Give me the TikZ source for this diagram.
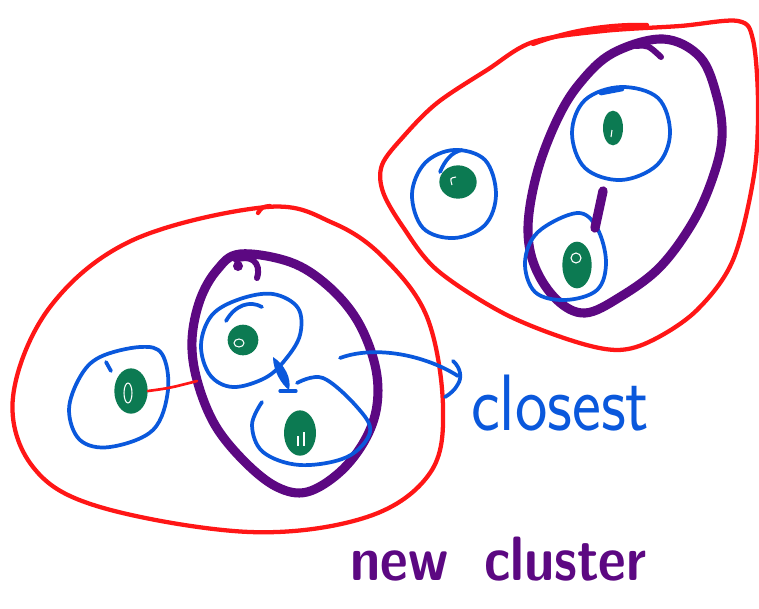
\documentclass[tikz,border=0pt]{standalone}
\usetikzlibrary{shapes.geometric}
\definecolor{cred}{RGB}{255,22,22}
\definecolor{cblue}{RGB}{10,88,220}
\definecolor{cgreen}{RGB}{12,122,82}
\definecolor{cpurple}{RGB}{92,8,130}
\tikzset{
 redline/.style={draw=cred, line width=3.2pt, line cap=round, line join=round},
 blueline/.style={draw=cblue, line width=2.8pt, line cap=round, line join=round},
 purpleline/.style={draw=cpurple, line width=6.8pt, line cap=round, line join=round},
 blob/.style={ellipse, fill=cgreen, inner sep=0pt},
 scrib/.style={draw=white, line width=0.8pt},
}
\begin{document}
\begin{tikzpicture}[x=0.75pt,y=-0.75pt]
\useasboundingbox[fill=white] (0,0) rectangle (759,608);

% ---------- red outer clusters ----------
\draw[redline] plot[smooth cycle, tension=0.6] coordinates {(267,207) (333,223) (383,257) (427,317) (443,407) (430,473) (367,517) (250,532) (100,507) (33,467) (13,397) (50,307) (133,240)};
\draw[redline] (258,213) .. controls (262,207) .. (270,206);
\draw[redline] plot[smooth cycle, tension=0.55] coordinates {(738,21) (753,40) (758,103) (754,175) (733,260) (697,310) (653,340) (617,350) (570,340) (503,313) (437,270) (403,227) (383,192) (382,165) (403,137) (437,103) (487,70) (533,42) (603,31) (680,26)};
\draw[redline] (533,44) .. controls (570,30) and (610,24) .. (647,25);

% ---------- purple clusters ----------
\draw[purpleline] plot[smooth cycle, tension=0.6] coordinates {(240,254) (290,262) (327,285) (357,320) (375,365) (377,405) (365,440) (340,472) (307,492) (277,487) (245,462) (215,425) (197,380) (192,340) (200,300) (217,270)};
\fill[cpurple] (238,266) circle (5);
\draw[purpleline, line width=4.5pt] (236,260) .. controls (250,254) and (262,262) .. (257,278);
\draw[purpleline] plot[smooth cycle, tension=0.6] coordinates {(663,39) (700,57) (717,97) (722,137) (713,177) (693,222) (660,267) (620,297) (585,313) (557,300) (535,267) (528,227) (537,173) (557,120) (580,83) (613,53)};
\draw[purpleline, line width=4.5pt] (636,46) .. controls (648,45) .. (661,57);

% ---------- blue singleton clusters ----------
% left picture
\draw[blueline] plot[smooth cycle, tension=0.6] coordinates {(140,347) (162,354) (168,390) (153,430) (110,447) (80,440) (69,410) (80,377) (100,357)};
\draw[blueline] (106,362) -- (111,371);
\draw[blueline] plot[smooth cycle, tension=0.6] coordinates {(273,294) (298,308) (300,335) (285,360) (265,378) (233,387) (210,375) (201,345) (212,315) (240,299)};
\draw[blueline] (226,321) .. controls (235,305) and (250,300) .. (262,307);
\draw[blueline] plot[smooth, tension=0.6] coordinates {(262,402) (252,425) (263,452) (300,465) (347,457) (370,432) (357,407) (323,378) (297,383)};
% right picture
\draw[blueline] plot[smooth cycle, tension=0.6] coordinates {(454,150) (485,160) (496,194) (485,225) (454,238) (423,228) (412,194) (425,163)};
\draw[blueline] (440,172) .. controls (445,160) and (452,152) .. (462,150);
\draw[blueline] plot[smooth cycle, tension=0.6] coordinates {(621,87) (658,98) (670,133) (657,165) (621,180) (585,168) (572,133) (585,100)};
\draw[blueline, line width=3.5pt] (601,93) -- (622,89);
\draw[blueline] plot[smooth cycle, tension=0.6] coordinates {(577,213) (597,228) (606,262) (597,290) (565,300) (535,292) (525,262) (538,232)};

% ---------- green points ----------
\node[blob, minimum width=25pt, minimum height=34pt] (gL) at (131,391) {};
\node[blob, minimum width=23pt, minimum height=23pt] (gU) at (243,340) {};
\node[blob, minimum width=24pt, minimum height=34pt] (gD) at (300,433) {};
\node[blob, minimum width=28pt, minimum height=25pt] (gA) at (458,182) {};
\node[blob, minimum width=15pt, minimum height=26pt] (gB) at (613,128) {};
\node[blob, minimum width=22pt, minimum height=35pt] (gC) at (577,265) {};
\draw[scrib] (128,393) ellipse (4 and 10);
\draw[scrib] (239,343) ellipse (5 and 4);
\draw[scrib] (298,436) -- (298,446) (304,432) -- (304,446);
\draw[scrib] (452,185) .. controls (450,178) .. (456,177);
\draw[scrib] (612,130) -- (611,137);
\draw[scrib] (576,258) ellipse (5 and 5);

% ---------- connectors ----------
\coordinate (pL) at (197,381);
\draw[draw=cred, line width=2pt, line cap=round] (gL.east) .. controls (170,388) .. (pL);

\coordinate (cu) at (273,357);
\coordinate (cd) at (289,390);
\fill[cblue] (cu) .. controls (284,364) and (292,378) .. (cd) .. controls (281,384) and (273,370) .. cycle;
\draw[blueline, line width=2.4pt] (280,391) -- (296,391);

\coordinate (rcu) at (603,191);
\coordinate (rcd) at (595,228);
\draw[purpleline, line width=7pt] (rcu) -- (rcd);

% ---------- labels ----------
\node[text=cblue, font=\sffamily\fontsize{60}{60}\selectfont, xscale=0.86, anchor=base west, inner sep=0pt] (cl) at (471,430) {closest};
\node[text=cpurple, font=\sffamily\bfseries\fontsize{47}{47}\selectfont, xscale=0.86, anchor=base west, inner sep=0pt] (nc) at (350,580) {new\hspace{0.3em} cluster};

\coordinate (aS) at (340,358);
\coordinate (aE) at (458,376);
\draw[blueline] (aS) .. controls (375,345) and (425,355) .. (aE);
\draw[blueline] (453,361) .. controls (461,368) and (462,378) .. (458,384) .. controls (455,390) and (450,394) .. (445,397);
\end{tikzpicture}
\end{document}
